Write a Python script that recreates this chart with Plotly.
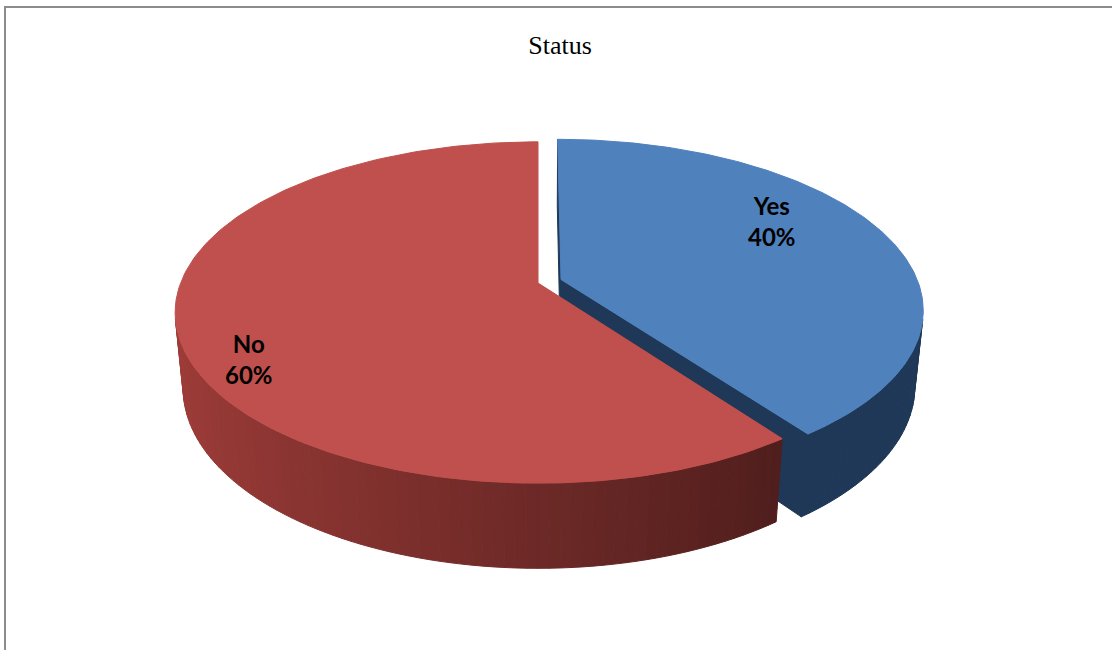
import numpy as np
import plotly.graph_objects as go

# ---- chart data ----
labels = ["Yes", "No"]
values = [40, 60]
top_colors = [(79, 129, 189), (192, 80, 77)]
side_colors = [(74, 134, 206), (190, 72, 68)]
explode = [0.068, 0.0]
title_text = "Status"

# ---- canvas / projection settings ----
W, H = 1112, 650
CX, CY = 538.0, 283.0          # screen position of the pie centre
FOCAL = 1832.0
DIST = 5.126
TILT = np.radians(27.6)
THICK = 0.242                  # pie height (radius = 1)


def project(X, Y, Z):
    """Perspective projection of world coords (X right, Y up, Z away) to pixels."""
    yc = Y * np.cos(TILT) + Z * np.sin(TILT)
    zc = -Y * np.sin(TILT) + Z * np.cos(TILT) + DIST
    return CX + FOCAL * X / zc, CY - FOCAL * yc / zc


def cam(X, Y, Z):
    yc = Y * np.cos(TILT) + Z * np.sin(TILT)
    zc = -Y * np.sin(TILT) + Z * np.cos(TILT) + DIST
    return np.array([X, yc, zc])


def cam_dir(nx, ny, nz):
    return np.array([nx, ny * np.cos(TILT) + nz * np.sin(TILT),
                     -ny * np.sin(TILT) + nz * np.cos(TILT)])


def faces_camera(normal, point):
    n = cam_dir(*normal)
    p = cam(*point)
    return float(np.dot(n, -p)) > 1e-3


def rgb(c, f):
    return "rgb({},{},{})".format(*[int(max(0, min(255, round(v * f)))) for v in c])


def wall_shade(theta):
    # light coming from the left: brightest on the left of the rim
    s = -np.sin(theta)
    return max(0.42, 0.42 + 0.41 * (s + 0.588) / 1.578)


def poly(xs, ys, color):
    return go.Scatter(x=list(xs) + [xs[0]], y=list(ys) + [ys[0]], mode="lines",
                      fill="toself", fillcolor=color,
                      line=dict(color=color, width=1),
                      hoverinfo="skip", showlegend=False)


fig = go.Figure()

total = float(sum(values))
slices = []
start = 0.0
for i, v in enumerate(values):
    sweep = 360.0 * v / total
    a0, a1 = np.radians(start), np.radians(start + sweep)
    mid = 0.5 * (a0 + a1)
    dx, dz = explode[i] * np.sin(mid), explode[i] * np.cos(mid)
    depth = cam(dx + 0.5 * np.sin(mid), 0, dz + 0.5 * np.cos(mid))[2]
    slices.append((depth, i, a0, a1, dx, dz))
    start += sweep

# paint far slices first
for depth, i, a0, a1, dx, dz in sorted(slices, key=lambda s: -s[0]):
    top_c, side_c = top_colors[i], side_colors[i]

    # radial cut faces
    for ang, nang in ((a0, a0 - np.pi / 2), (a1, a1 + np.pi / 2)):
        normal = (np.sin(nang), 0.0, np.cos(nang))
        centre = (dx + 0.5 * np.sin(ang), -THICK / 2, dz + 0.5 * np.cos(ang))
        if faces_camera(normal, centre):
            pts = [(dx, 0, dz), (dx + np.sin(ang), 0, dz + np.cos(ang)),
                   (dx + np.sin(ang), -THICK, dz + np.cos(ang)), (dx, -THICK, dz)]
            xs, ys = zip(*[project(*p) for p in pts])
            fig.add_trace(poly(xs, ys, rgb(side_c, 0.42)))

    # outer rim, drawn in narrow shaded strips
    n = max(2, int(np.degrees(a1 - a0) / 1.5))
    th = np.linspace(a0, a1, n + 1)
    for k in range(n):
        t0, t1 = th[k], th[k + 1]
        tm = 0.5 * (t0 + t1)
        normal = (np.sin(tm), 0.0, np.cos(tm))
        point = (dx + np.sin(tm), -THICK / 2, dz + np.cos(tm))
        if not faces_camera(normal, point):
            continue
        pts = [(dx + np.sin(t0), 0, dz + np.cos(t0)), (dx + np.sin(t1), 0, dz + np.cos(t1)),
               (dx + np.sin(t1), -THICK, dz + np.cos(t1)), (dx + np.sin(t0), -THICK, dz + np.cos(t0))]
        xs, ys = zip(*[project(*p) for p in pts])
        fig.add_trace(poly(xs, ys, rgb(side_c, wall_shade(tm))))

    # top face
    tt = np.linspace(a0, a1, 200)
    xs_top, ys_top = project(dx + np.sin(tt), 0.0 * tt, dz + np.cos(tt))
    cx0, cy0 = project(dx, 0.0, dz)
    xs = [cx0] + list(xs_top)
    ys = [cy0] + list(ys_top)
    fig.add_trace(poly(xs, ys, rgb(top_c, 1.0)))

# data labels
label_pos = {"Yes": (772, 221), "No": (249, 359)}
for lab, v in zip(labels, values):
    lx, ly = label_pos[lab]
    fig.add_annotation(x=lx, y=ly, xref="x", yref="y",
                       text="<b>{}<br>{}%</b>".format(lab, round(100 * v / total)),
                       showarrow=False, align="center",
                       font=dict(family="Lato", size=24, color="black"))

# chart frame lines
fig.add_shape(type="line", xref="x", yref="y", x0=4, x1=W, y0=7, y1=7,
              line=dict(color="#8c8c8c", width=2))
fig.add_shape(type="line", xref="x", yref="y", x0=5, x1=5, y0=7, y1=H,
              line=dict(color="#8c8c8c", width=2))

fig.update_layout(
    width=W, height=H,
    margin=dict(l=0, r=0, t=0, b=0),
    paper_bgcolor="white", plot_bgcolor="white",
    title=dict(text=title_text, x=0.5036, xanchor="center", y=1 - 45 / H, yanchor="middle",
               yref="container", font=dict(family="Liberation Serif", size=26, color="black")),
    xaxis=dict(range=[0, W], visible=False, fixedrange=True),
    yaxis=dict(range=[H, 0], visible=False, fixedrange=True),
    showlegend=False,
)

fig.write_html("out.html")
